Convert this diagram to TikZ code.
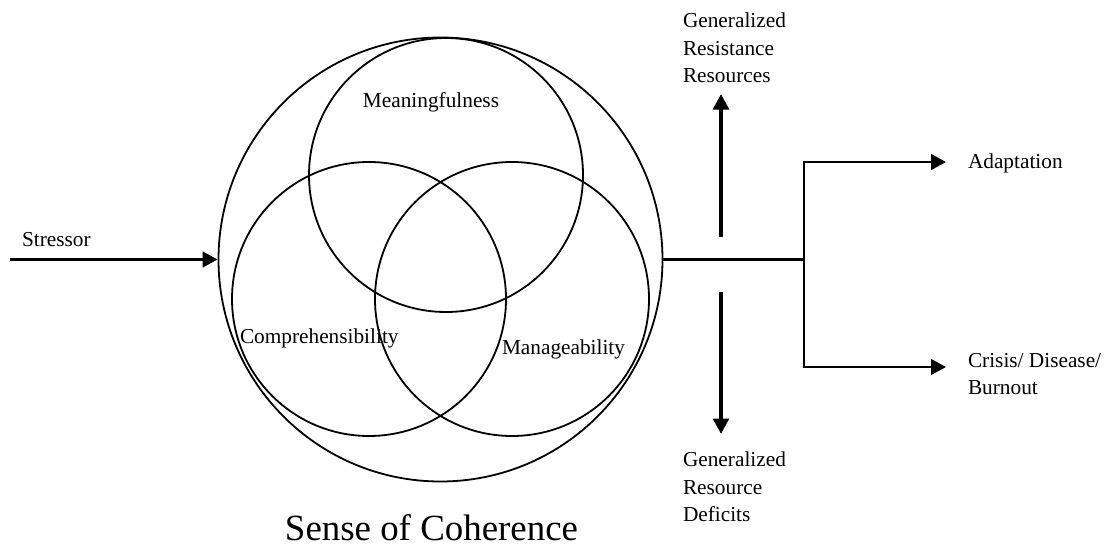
\documentclass[tikz,border=0pt]{standalone}
\usepackage{fontspec}
\setmainfont{Liberation Serif}
\usetikzlibrary{arrows.meta}
\begin{document}
\begin{tikzpicture}[x=1pt,y=-1pt,
  ring/.style={draw, circle, line width=1.8pt, minimum size=274pt, inner sep=0pt},
  lbl/.style={font=\fontsize{21.3pt}{27.8pt}\selectfont, inner sep=0pt, outer sep=0pt},
  conn/.style={line width=2.7pt},
  flow/.style={line width=2.7pt, -{Triangle[length=15pt,width=15.5pt]}},
  thick arrow/.style={line width=4.3pt, -{Triangle[length=15.5pt,width=15.5pt]}}]
\useasboundingbox (0,0) rectangle (1108,546);
% circles
\node[ring, minimum size=444pt] (soc) at (440.5,259.5) {};
\node[ring] (mean) at (446,175) {};
\node[ring] (comp) at (369,299) {};
\node[ring] (mana) at (512,299) {};
% circle labels
\node[lbl, anchor=base] (meanlbl) at (431,107) {Meaningfulness};
\node[lbl, anchor=base west] (complbl) at (240,343) {Comprehensibility};
\node[lbl, anchor=base west] (manalbl) at (502,354) {Manageability};
\node[lbl, anchor=base, font=\fontsize{36.9pt}{44pt}\selectfont] (soclbl) at (431.5,540) {Sense of Coherence};
% stressor
\node[lbl, anchor=base west] (stress) at (22,246) {Stressor};
\coordinate (sstart) at (10,259.5);
\draw[flow] (sstart) -- (soc.west);
% outcome branch
\coordinate (branch) at (804,259.5);
\coordinate (btop) at (804,162);
\coordinate (bbot) at (804,367);
\coordinate (atip) at (946,162);
\coordinate (ctip) at (946,367);
\draw[conn] (soc.east) -- (branch);
\draw[conn] (btop) -- (bbot);
\draw[flow] ([xshift=-1.35pt]btop) -- (atip);
\draw[flow] ([xshift=-1.35pt]bbot) -- (ctip);
\node[lbl, anchor=base west] (adapt) at (968,168) {Adaptation};
\node[lbl, anchor=north west, align=left] (crisis) at (968,353) {Crisis/ Disease/\\Burnout};
% resources / deficits
\coordinate (ustart) at (721,237);
\coordinate (utip) at (721,94);
\coordinate (dstart) at (721,292);
\coordinate (dtip) at (721,434);
\draw[thick arrow] (ustart) -- (utip);
\draw[thick arrow] (dstart) -- (dtip);
\node[lbl, anchor=north west, align=left] (grr) at (683,12.5) {Generalized\\Resistance\\Resources};
\node[lbl, anchor=north west, align=left] (grd) at (683,451.5) {Generalized\\Resource\\Deficits};
\end{tikzpicture}
\end{document}
